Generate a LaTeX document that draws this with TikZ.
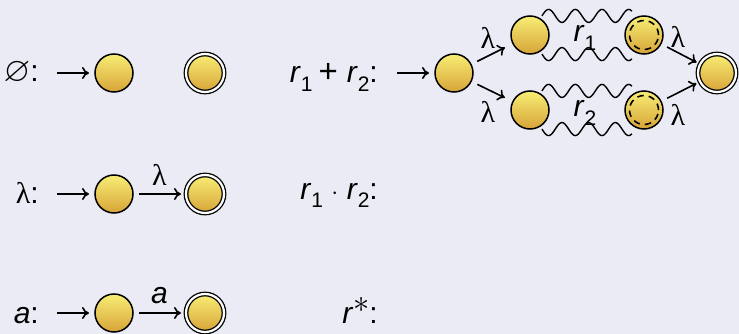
\documentclass[tikz,border=0pt]{standalone}
\usepackage{amssymb}
\usepackage{graphicx}
\usepackage{fontspec}
\setmainfont{Liberation Sans}
\newfontfamily\lamfont{Liberation Serif}
\usetikzlibrary{arrows.meta,calc}
\definecolor{bg}{HTML}{EBEBF5}
\definecolor{stTop}{HTML}{F7EE74}
\definecolor{stBot}{HTML}{D7A338}
\newcommand\lam{{\lamfont λ}}
\newcommand\sbs[1]{\raisebox{-0.27em}{\fontsize{21}{24}\selectfont #1}}
\newcommand\spc{\hspace{0.28em}}
\begin{document}
\begin{tikzpicture}[x=1pt,y=-1pt,font=\fontsize{30}{36}\selectfont,
  state/.style={circle,draw,line width=1.5pt,minimum size=38pt,inner sep=0pt,outer sep=0pt,top color=stTop,bottom color=stBot},
  final/.style={state,double,double distance=2.2pt,line width=1.3pt},
  arr/.style={line width=1.6pt,-{To[length=7pt,width=12pt]}},
  wv/.style={line width=1.4pt},
  inner/.style={dash pattern=on 6.5pt off 5pt,line width=1.6pt},
  lbl/.style={anchor=base east,inner sep=0pt},
  elbl/.style={inner sep=0pt}]
\fill[bg] (0,0) rectangle (739,334);
\useasboundingbox (0,0) rectangle (739,334);
% empty set
\node[lbl] (l0) at (39,82) {\scalebox{1.15}{$\varnothing$}:};
\coordinate (i0) at (57,73);
\node[state] (s0) at (114,73) {};
\node[final] (f0) at (205,73) {};
\draw[arr,shorten >=6pt] (i0) -- (s0);
% lambda
\node[lbl] (l1) at (39,204) {\lam:};
\coordinate (i1) at (57,194);
\node[state] (s1) at (114,194) {};
\node[final] (f1) at (205,194) {};
\draw[arr,shorten >=6pt] (i1) -- (s1);
\draw[arr,shorten <=6pt,shorten >=5pt] (s1) -- node[elbl,yshift=19pt] {\lam} (f1);
% a
\node[lbl] (l2) at (39,323) {\textit{a}:};
\coordinate (i2) at (57,313);
\node[state] (s2) at (114,313) {};
\node[final] (f2) at (205,313) {};
\draw[arr,shorten >=6pt] (i2) -- (s2);
\draw[arr,shorten <=6pt,shorten >=5pt] (s2) -- node[elbl,yshift=17pt] {\textit{a}} (f2);
% r1 + r2
\node[lbl] (l3) at (378,83) {\textit{r}\sbs{1}\hspace{0.2em}{\fontsize{33}{36}\selectfont +}\hspace{0.3em}\textit{r}\sbs{2}:};
\coordinate (i3) at (397,73);
\node[state] (q0) at (454,73) {};
\node[state] (u1) at (530,35) {};
\node[state] (u2) at (644,35) {};
\node[state] (d1) at (530,110) {};
\node[state] (d2) at (644,110) {};
\node[final] (qf) at (717,73) {};
\draw[arr,shorten >=6pt] (i3) -- (q0);
\draw[inner] (u2) circle (14.5pt);
\draw[inner] (d2) circle (14.5pt);
\draw[arr,shorten <=7pt,shorten >=9pt] (q0) -- node[elbl,xshift=-4pt,yshift=16pt] {\lam} (u1);
\draw[arr,shorten <=7pt,shorten >=9pt] (q0) -- node[elbl,xshift=-4pt,yshift=-20pt] {\lam} (d1);
\draw[arr,shorten <=7pt,shorten >=4pt] (u2) -- node[elbl,xshift=-2.5pt,yshift=17pt] {\lam} (qf);
\draw[arr,shorten <=7pt,shorten >=4pt] (d2) -- node[elbl,xshift=-2.5pt,yshift=-23pt] {\lam} (qf);
\coordinate (w1) at ($(u1)+(58:22.5pt)$);
\coordinate (w2) at ($(u1)+(-58:22.5pt)$);
\coordinate (w3) at ($(d1)+(58:22.5pt)$);
\coordinate (w4) at ($(d1)+(-58:22.5pt)$);
\draw[wv,shift={(w1)}] plot[domain=0:90,samples=90,smooth] (\x,{-6.5*sin(\x*13.483)});
\draw[wv,shift={(w2)}] plot[domain=0:90,samples=90,smooth] (\x,{6.5*sin(\x*13.483)});
\draw[wv,shift={(w3)}] plot[domain=0:90,samples=90,smooth] (\x,{-6.5*sin(\x*13.483)});
\draw[wv,shift={(w4)}] plot[domain=0:90,samples=90,smooth] (\x,{6.5*sin(\x*13.483)});
\node[anchor=base,inner sep=0pt] (r1) at (585,42) {\textit{r}\sbs{1}};
\node[anchor=base,inner sep=0pt] (r2) at (585,117) {\textit{r}\sbs{2}};
% r1 . r2
\node[lbl] (l4) at (378,199) {\textit{r}\sbs{1}\spc$\cdot$\spc\textit{r}\sbs{2}:};
% r*
\node[lbl] (l5) at (378,323) {\textit{r}\raisebox{0.36em}{\scalebox{1.3}{$\ast$}}:};
\end{tikzpicture}
\end{document}
